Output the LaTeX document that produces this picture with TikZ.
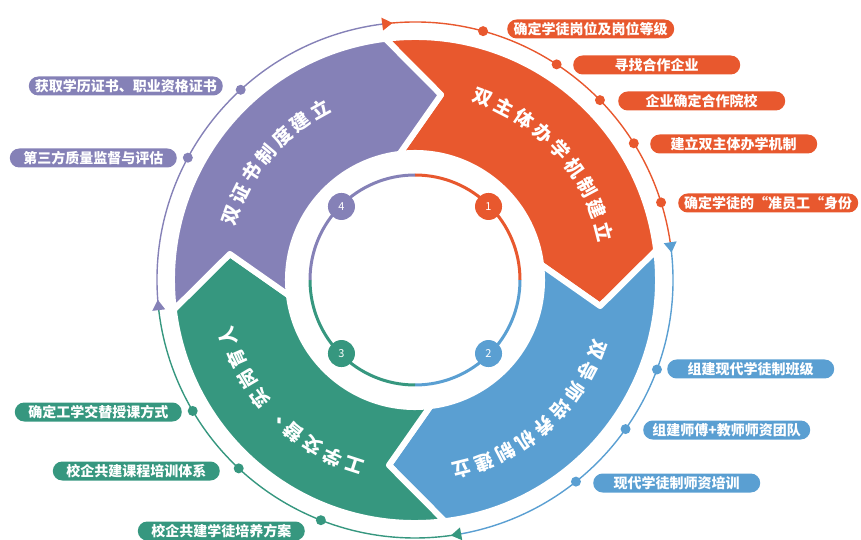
\documentclass[tikz,border=0pt]{standalone}
\usepackage{fontspec}
\setmainfont{Noto Sans CJK SC}
\definecolor{cor}{HTML}{E8582E}
\definecolor{cbl}{HTML}{5A9FD2}
\definecolor{cgr}{HTML}{36977F}
\definecolor{cpu}{HTML}{8581B7}
\newcommand\ringseg[3]{%
  \filldraw[fill=#3, draw=white, line width=6pt, line join=round]
    (#1:243pt) arc[start angle=#1, end angle=#2, radius=243pt]
    -- ({#2-15}:187pt) -- (#2:127pt)
    arc[start angle=#2, end angle=#1, radius=127pt]
    -- ({#1-15}:187pt) -- cycle;}
\newcommand\outerarc[3]{%
  \draw[#3, line width=1.4pt] (#1:258pt) arc[start angle=#1, end angle=#2, radius=258pt];
  \fill[#3] (#1:251.5pt) -- (#1:264.5pt) -- ({#1-2.3}:258pt) -- cycle;}
\tikzset{
  pill/.style={rounded corners=9.5pt, minimum height=19pt, minimum width=167pt,
    inner xsep=6pt, inner ysep=0pt, text=white, font=\fontsize{14}{14}\selectfont\bfseries},
  dotc/.style={circle, inner sep=0pt, minimum size=10pt},
  numc/.style={circle, inner sep=0pt, minimum size=27pt, text=white,
    font=\fontsize{11}{11}\selectfont},
  titlech/.style={inner sep=0pt, text=white, font=\fontsize{19}{19}\selectfont\bfseries},
}
\begin{document}
\begin{tikzpicture}
\useasboundingbox (-415pt,-260pt) rectangle (446pt,280pt);
% ring segments
\ringseg{97}{7}{cor}
\ringseg{7}{-83}{cbl}
\ringseg{-83}{-173}{cgr}
\ringseg{187}{97}{cpu}
% outer arcs
\outerarc{97.3}{8.4}{cor}
\outerarc{8.4}{-79.7}{cbl}
\outerarc{-79.7}{-173.3}{cgr}
\outerarc{186.7}{97.3}{cpu}
% inner circle
\draw[cor, line width=3pt] (90:105pt) arc[start angle=90, end angle=0, radius=105pt];
\draw[cbl, line width=3pt] (0:105pt) arc[start angle=0, end angle=-90, radius=105pt];
\draw[cgr, line width=3pt] (-90:105pt) arc[start angle=-90, end angle=-180, radius=105pt];
\draw[cpu, line width=3pt] (180:105pt) arc[start angle=180, end angle=90, radius=105pt];
\node[numc, fill=cor] (n1) at (45:104pt) {1};
\node[numc, fill=cbl] (n2) at (-45:104pt) {2};
\node[numc, fill=cgr] (n3) at (-135:104pt) {3};
\node[numc, fill=cpu] (n4) at (135:104pt) {4};
% titles
\foreach \c [count=\i from 0] in {双,主,体,办,学,机,制,建,立}{
  \pgfmathsetmacro\ang{42+4*6.9-\i*6.9}
  \node[titlech, rotate=\ang-90] (to\i) at (\ang:195pt) {\c};}
\foreach \c [count=\i from 0] in {双,导,师,培,养,机,制,建,立}{
  \pgfmathsetmacro\ang{-48.5+4*6.9-\i*6.9}
  \node[titlech, rotate=\ang-90] (tb\i) at (\ang:195pt) {\c};}
\foreach \c [count=\i from 0] in {工,学,交,替,、,实,岗,育,人}{
  \pgfmathsetmacro\ang{-135.6+4*6.9-\i*6.9}
  \node[titlech, rotate=\ang-90] (tg\i) at (\ang:195pt) {\c};}
\foreach \c [count=\i from 0] in {双,证,书,制,度,建,立}{
  \pgfmathsetmacro\ang{139.8+3*6.9-\i*6.9}
  \node[titlech, rotate=\ang-90] (tp\i) at (\ang:195pt) {\c};}
% dots
\node[dotc, fill=cor] (do1) at (74.7:258pt) {};
\node[dotc, fill=cor] (do2) at (56.7:258pt) {};
\node[dotc, fill=cor] (do3) at (44.2:258pt) {};
\node[dotc, fill=cor] (do4) at (32.0:258pt) {};
\node[dotc, fill=cor] (do5) at (17.5:258pt) {};
\node[dotc, fill=cbl] (db1) at (-20.3:258pt) {};
\node[dotc, fill=cbl] (db2) at (-35.3:258pt) {};
\node[dotc, fill=cbl] (db3) at (-51.4:258pt) {};
\node[dotc, fill=cgr] (dg1) at (-149.5:258pt) {};
\node[dotc, fill=cgr] (dg2) at (-133.1:258pt) {};
\node[dotc, fill=cgr] (dg3) at (-111.4:258pt) {};
\node[dotc, fill=cpu] (dp1) at (132.5:258pt) {};
\node[dotc, fill=cpu] (dp2) at (151.7:258pt) {};
% pills
\node[pill, fill=cor, anchor=west] (po1) at (92pt,251pt) {确定学徒岗位及岗位等级};
\node[pill, fill=cor, anchor=west] (po2) at (158pt,215pt) {寻找合作企业};
\node[pill, fill=cor, anchor=west] (po3) at (203pt,179pt) {企业确定合作院校};
\node[pill, fill=cor, anchor=west] (po4) at (235pt,136pt) {建立双主体办学机制};
\node[pill, fill=cor, anchor=west] (po5) at (263pt,77pt) {确定学徒的“准员工“身份};
\node[pill, fill=cbl, anchor=west] (pb1) at (252pt,-89pt) {组建现代学徒制班级};
\node[pill, fill=cbl, anchor=west] (pb2) at (228pt,-150pt) {组建师傅+教师师资团队};
\node[pill, fill=cbl, anchor=west] (pb3) at (178pt,-203pt) {现代学徒制师资培训};
\node[pill, fill=cgr, anchor=east] (pg1) at (-233pt,-132pt) {确定工学交替授课方式};
\node[pill, fill=cgr, anchor=east] (pg2) at (-195pt,-191pt) {校企共建课程培训体系};
\node[pill, fill=cgr, anchor=east] (pg3) at (-110pt,-251pt) {校企共建学徒培养方案};
\node[pill, fill=cpu, anchor=east] (pp1) at (-192pt,194pt) {获取学历证书、职业资格证书};
\node[pill, fill=cpu, anchor=east] (pp2) at (-238pt,122pt) {第三方质量监督与评估};
\end{tikzpicture}
\end{document}
